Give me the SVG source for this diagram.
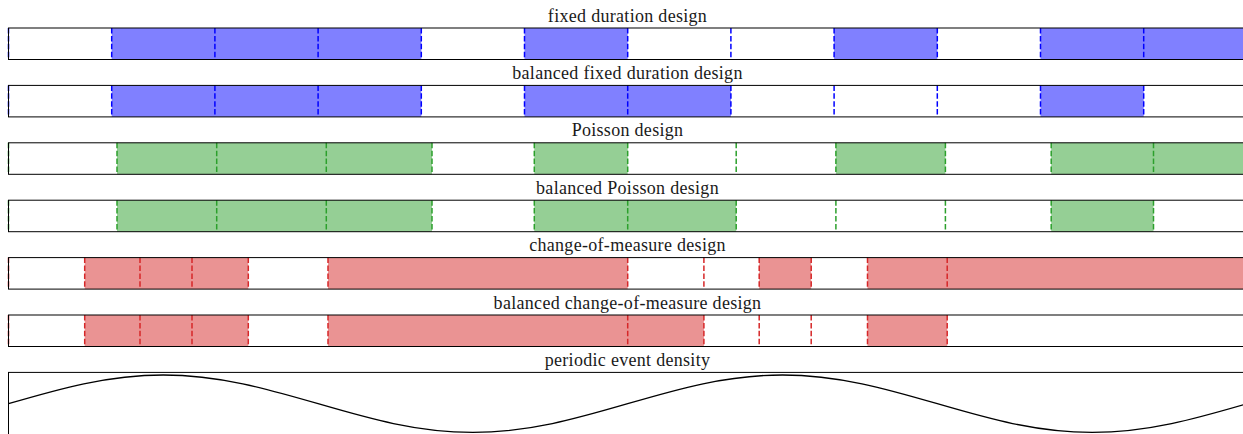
<svg xmlns="http://www.w3.org/2000/svg" width="1243" height="434" viewBox="0 0 1243 434">
<style>
.bg{fill:#ffffff}
.frame{fill:none;stroke:#000000;stroke-width:1}
.title{font-family:"Liberation Serif","Times New Roman",serif;font-size:18px;fill:#1a1a1a;text-anchor:middle;letter-spacing:0.3px}
.fb{fill:#8080ff}
.fg{fill:#95cf95}
.fr{fill:#ea9393}
.lb{stroke:#0000ff;stroke-width:1.5;stroke-dasharray:5.5 2.4;fill:none}
.lg{stroke:#2ca02c;stroke-width:1.5;stroke-dasharray:5.5 2.4;fill:none}
.lr{stroke:#d62728;stroke-width:1.5;stroke-dasharray:5.5 2.4;fill:none}
.wave{fill:none;stroke:#000000;stroke-width:1.3}
</style>
<rect x="0" y="0" width="1243" height="434" class="bg"/>

<g id="fixed-duration" transform="translate(0,28)">
<text x="627.5" y="-6.5" class="title">fixed duration design</text>
<rect x="111.7" y="0" width="309.6" height="31.5" class="fb"/>
<rect x="524.5" y="0" width="103.2" height="31.5" class="fb"/>
<rect x="834.1" y="0" width="103.2" height="31.5" class="fb"/>
<rect x="1040.5" y="0" width="220" height="31.5" class="fb"/>
<path class="lb" d="M8.5,0V31.5M111.7,0V31.5M214.9,0V31.5M318.1,0V31.5M421.3,0V31.5M524.5,0V31.5M627.7,0V31.5M730.9,0V31.5M834.1,0V31.5M937.3,0V31.5M1040.5,0V31.5M1143.7,0V31.5"/>
<rect x="8.5" y="0" width="1260" height="31.5" class="frame"/>
</g>

<g id="balanced-fixed-duration" transform="translate(0,85.4)">
<text x="627.5" y="-6.5" class="title">balanced fixed duration design</text>
<rect x="111.7" y="0" width="309.6" height="31.5" class="fb"/>
<rect x="524.5" y="0" width="206.4" height="31.5" class="fb"/>
<rect x="1040.5" y="0" width="103.2" height="31.5" class="fb"/>
<path class="lb" d="M8.5,0V31.5M111.7,0V31.5M214.9,0V31.5M318.1,0V31.5M421.3,0V31.5M524.5,0V31.5M627.7,0V31.5M730.9,0V31.5M834.1,0V31.5M937.3,0V31.5M1040.5,0V31.5M1143.7,0V31.5"/>
<rect x="8.5" y="0" width="1260" height="31.5" class="frame"/>
</g>

<g id="poisson" transform="translate(0,142.8)">
<text x="627.5" y="-6.5" class="title">Poisson design</text>
<rect x="117" y="0" width="315" height="31.5" class="fg"/>
<rect x="534.3" y="0" width="93.4" height="31.5" class="fg"/>
<rect x="835.9" y="0" width="109.5" height="31.5" class="fg"/>
<rect x="1051.2" y="0" width="220" height="31.5" class="fg"/>
<path class="lg" d="M8.5,0V31.5M117,0V31.5M216.7,0V31.5M326.3,0V31.5M432,0V31.5M534.3,0V31.5M627.7,0V31.5M736.2,0V31.5M835.9,0V31.5M945.4,0V31.5M1051.2,0V31.5M1153.5,0V31.5"/>
<rect x="8.5" y="0" width="1260" height="31.5" class="frame"/>
</g>

<g id="balanced-poisson" transform="translate(0,200.2)">
<text x="627.5" y="-6.5" class="title">balanced Poisson design</text>
<rect x="117" y="0" width="315" height="31.5" class="fg"/>
<rect x="534.3" y="0" width="201.9" height="31.5" class="fg"/>
<rect x="1051.2" y="0" width="102.3" height="31.5" class="fg"/>
<path class="lg" d="M8.5,0V31.5M117,0V31.5M216.7,0V31.5M326.3,0V31.5M432,0V31.5M534.3,0V31.5M627.7,0V31.5M736.2,0V31.5M835.9,0V31.5M945.4,0V31.5M1051.2,0V31.5M1153.5,0V31.5"/>
<rect x="8.5" y="0" width="1260" height="31.5" class="frame"/>
</g>

<g id="change-of-measure" transform="translate(0,257.6)">
<text x="627.5" y="-6.5" class="title">change-of-measure design</text>
<rect x="84.7" y="0" width="163.6" height="31.5" class="fr"/>
<rect x="328" y="0" width="299.7" height="31.5" class="fr"/>
<rect x="759.2" y="0" width="52" height="31.5" class="fr"/>
<rect x="867.5" y="0" width="400" height="31.5" class="fr"/>
<path class="lr" d="M8.5,0V31.5M84.7,0V31.5M140,0V31.5M192,0V31.5M248.3,0V31.5M328,0V31.5M627.7,0V31.5M703.9,0V31.5M759.2,0V31.5M811.2,0V31.5M867.5,0V31.5M947.2,0V31.5"/>
<rect x="8.5" y="0" width="1260" height="31.5" class="frame"/>
</g>

<g id="balanced-change-of-measure" transform="translate(0,315)">
<text x="627.5" y="-6.5" class="title">balanced change-of-measure design</text>
<rect x="84.7" y="0" width="163.6" height="31.5" class="fr"/>
<rect x="328" y="0" width="375.9" height="31.5" class="fr"/>
<rect x="867.5" y="0" width="79.7" height="31.5" class="fr"/>
<path class="lr" d="M8.5,0V31.5M84.7,0V31.5M140,0V31.5M192,0V31.5M248.3,0V31.5M328,0V31.5M627.7,0V31.5M703.9,0V31.5M759.2,0V31.5M811.2,0V31.5M867.5,0V31.5M947.2,0V31.5"/>
<rect x="8.5" y="0" width="1260" height="31.5" class="frame"/>
</g>

<g id="periodic-event-density">
<text x="627.5" y="365.9" class="title">periodic event density</text>
<rect x="8.5" y="372.4" width="1260" height="80" class="frame"/>
<path class="wave" d="M8.5,403.7 C58.99,389 107.28,375 163.3,375 S267.61,389 318.1,403.7 S416.88,432.4 472.9,432.4 S577.21,418.4 627.7,403.7 S726.48,375 782.5,375 S886.81,389 937.3,403.7 S1036.08,432.4 1092.1,432.4 S1196.41,418.4 1246.9,403.7"/>
</g>
</svg>
